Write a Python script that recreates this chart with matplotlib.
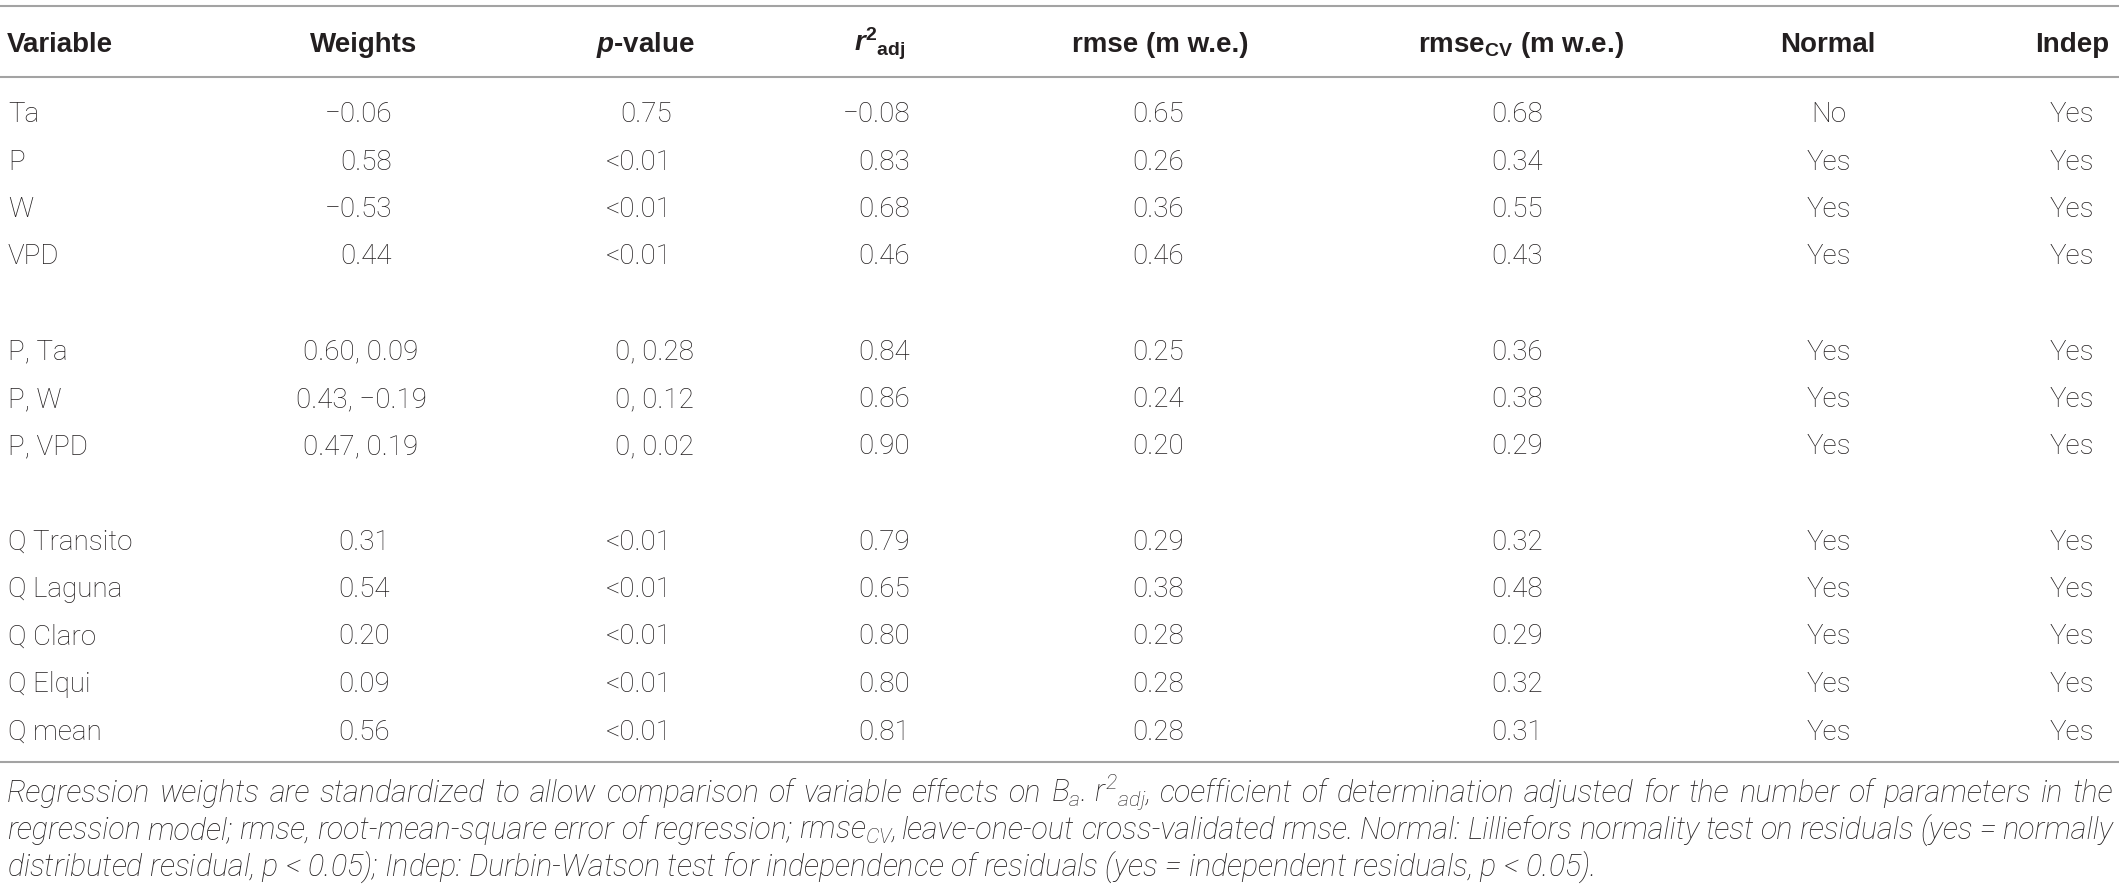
import matplotlib
matplotlib.use("Agg")
import matplotlib.pyplot as plt
from matplotlib import font_manager as fm
from matplotlib import mathtext

# ---------------- data ----------------
header_labels = ["Variable", "Weights", "p-value", "r2adj", "rmse (m w.e.)",
                 "rmseCV (m w.e.)", "Normal", "Indep"]

# group 1: single climate variables
g1_vars = ["Ta", "P", "W", "VPD"]
g1_weights = ["\u22120.06", "0.58", "\u22120.53", "0.44"]
g1_p = ["0.75", "<0.01", "<0.01", "<0.01"]
g1_r2 = ["\u22120.08", "0.83", "0.68", "0.46"]
g1_rmse = ["0.65", "0.26", "0.36", "0.46"]
g1_rmsecv = ["0.68", "0.34", "0.55", "0.43"]
g1_normal = ["No", "Yes", "Yes", "Yes"]
g1_indep = ["Yes", "Yes", "Yes", "Yes"]

# group 2: pairs of variables
g2_vars = ["P, Ta", "P, W", "P, VPD"]
g2_weights = ["0.60, 0.09", "0.43, \u22120.19", "0.47, 0.19"]
g2_p = ["0, 0.28", "0, 0.12", "0, 0.02"]
g2_r2 = ["0.84", "0.86", "0.90"]
g2_rmse = ["0.25", "0.24", "0.20"]
g2_rmsecv = ["0.36", "0.38", "0.29"]
g2_normal = ["Yes", "Yes", "Yes"]
g2_indep = ["Yes", "Yes", "Yes"]

# group 3: discharge
g3_vars = ["Q Transito", "Q Laguna", "Q Claro", "Q Elqui", "Q mean"]
g3_weights = ["0.31", "0.54", "0.20", "0.09", "0.56"]
g3_p = ["<0.01", "<0.01", "<0.01", "<0.01", "<0.01"]
g3_r2 = ["0.79", "0.65", "0.80", "0.80", "0.81"]
g3_rmse = ["0.29", "0.38", "0.28", "0.28", "0.28"]
g3_rmsecv = ["0.32", "0.48", "0.29", "0.32", "0.31"]
g3_normal = ["Yes", "Yes", "Yes", "Yes", "Yes"]
g3_indep = ["Yes", "Yes", "Yes", "Yes", "Yes"]

caption_line1 = ("Regression weights are standardized to allow comparison of variable "
                 "effects on $B_a$. $r^2{}_{adj}$, coefficient of determination adjusted "
                 "for the number of parameters in the")
caption_line2 = ("regression model; rmse, root-mean-square error of regression; "
                 "rmse$_{CV}$, leave-one-out cross-validated rmse. Normal: Lilliefors "
                 "normality test on residuals (yes = normally")
caption_line3 = ("distributed residual, $p$ < 0.05); Indep: Durbin-Watson test for "
                 "independence of residuals (yes = independent residuals, $p$ < 0.05).")

# ---------------- fonts ----------------
def _w(v):
    if isinstance(v, str):
        return fm.weight_dict.get(v, 400)
    return v

def has_font(name, weight, style="normal"):
    for f in fm.fontManager.ttflist:
        if f.name == name and f.style == style and _w(f.weight) == weight:
            return True
    return False

body_family, body_weight = "Liberation Sans", "normal"
cap_family, cap_weight = "Liberation Sans", "normal"
for fam in ["Roboto", "Lato", "Open Sans"]:
    if has_font(fam, 300):
        body_family, body_weight = fam, "light"
        break
for fam in ["Roboto", "Lato", "Open Sans"]:
    if has_font(fam, 300, "italic"):
        cap_family, cap_weight = fam, "light"
        break

head_family = "Liberation Sans"

plt.rcParams["mathtext.fontset"] = "custom"
wtxt = ":weight=light" if cap_weight == "light" else ""
plt.rcParams["mathtext.it"] = f"{cap_family}:style=italic{wtxt}"
plt.rcParams["mathtext.rm"] = f"{cap_family}:style=italic{wtxt}"
plt.rcParams["mathtext.bf"] = f"{head_family}:weight=bold"
try:
    plt.rcParams["mathtext.bfit"] = f"{head_family}:style=italic:weight=bold"
    mathtext.MathTextParser("path").parse(r"$\mathbfit{r}$")
    BFIT = r"\mathbfit"
except Exception:
    BFIT = r"\mathit"

# ---------------- figure ----------------
W, H = 2119, 892
fig = plt.figure(figsize=(W / 100, H / 100), dpi=100)
ax = fig.add_axes([0, 0, 1, 1])
ax.set_xlim(0, W)
ax.set_ylim(H, 0)
ax.axis("off")

TXT = "#231f20"
RULE = "#a3a3a3"
FS_BODY = 20
FS_HEAD = 20

# rules
for yr in [5.5, 77, 762]:
    ax.plot([0, W], [yr, yr], color=RULE, lw=1.5, solid_capstyle="butt")

# header
head_y = 52
hkw = dict(fontsize=FS_HEAD, fontweight="bold", family=head_family, color=TXT,
           va="baseline")
ax.text(7, head_y, header_labels[0], ha="left", **hkw)
ax.text(364, head_y, header_labels[1], ha="center", **hkw)
ax.text(645, head_y, "$" + BFIT + "{p}$-value", ha="center", **hkw)
ax.text(880, head_y, "$" + BFIT + r"{r}^{\mathbf{2}}{}_{\mathbf{adj}}$", ha="center", **hkw)
ax.text(1160, head_y, header_labels[4], ha="center", **hkw)
ax.text(1521, head_y, r"rmse$_{\mathbf{CV}}$ (m w.e.)", ha="center", **hkw)
ax.text(1828, head_y, header_labels[6], ha="center", **hkw)
ax.text(2072, head_y, header_labels[7], ha="center", **hkw)

# body rows
bkw = dict(fontsize=FS_BODY, fontweight=body_weight, family=body_family, color=TXT,
           va="baseline")
row0 = 112
step = 47.5
base_off = 10

groups = [
    (g1_vars, g1_weights, g1_p, g1_r2, g1_rmse, g1_rmsecv, g1_normal, g1_indep,
     (392, "right"), (672, "right")),
    (g2_vars, g2_weights, g2_p, g2_r2, g2_rmse, g2_rmsecv, g2_normal, g2_indep,
     (361, "center"), (654, "center")),
    (g3_vars, g3_weights, g3_p, g3_r2, g3_rmse, g3_rmsecv, g3_normal, g3_indep,
     (364, "center"), (672, "right")),
]

idx = 0
for gi, (vs, ws, ps, r2s, rms, rcs, ns, ids, wpos, ppos) in enumerate(groups):
    for k in range(len(vs)):
        y = row0 + idx * step + base_off
        ax.text(8, y, vs[k], ha="left", **bkw)
        ax.text(wpos[0], y, ws[k], ha=wpos[1], **bkw)
        ax.text(ppos[0], y, ps[k], ha=ppos[1], **bkw)
        ax.text(910, y, r2s[k], ha="right", **bkw)
        ax.text(1158, y, rms[k], ha="center", **bkw)
        ax.text(1517, y, rcs[k], ha="center", **bkw)
        ax.text(1829, y, ns[k], ha="center", **bkw)
        ax.text(2072, y, ids[k], ha="center", **bkw)
        idx += 1
    idx += 1  # blank spacer row

# ---------------- caption (justified) ----------------
fig.canvas.draw()
renderer = fig.canvas.get_renderer()
ckw = dict(fontstyle="italic", fontweight=cap_weight, family=cap_family, color=TXT,
           va="baseline", ha="left")

cap_ys = [802, 839, 876]
fs_cap = 19
probe = ax.text(7, cap_ys[2], caption_line3, fontsize=fs_cap, **ckw)
wnat = probe.get_window_extent(renderer).width
fs_cap = max(15, min(22, fs_cap * 1603 / wnat))
probe.set_fontsize(fs_cap)

def justify(line, y, x0=7, x1=2113):
    words = line.split(" ")
    # keep mathtext groups intact (no spaces inside $...$ here)
    ts = [ax.text(0, y, w_, fontsize=fs_cap, **ckw) for w_ in words]
    widths = [t.get_window_extent(renderer).width for t in ts]
    gap = (x1 - x0 - sum(widths)) / (len(words) - 1)
    x = x0
    for t, wd in zip(ts, widths):
        t.set_x(x)
        x += wd + gap

justify(caption_line1, cap_ys[0])
justify(caption_line2, cap_ys[1])

fig.savefig("out.png", dpi=100)
